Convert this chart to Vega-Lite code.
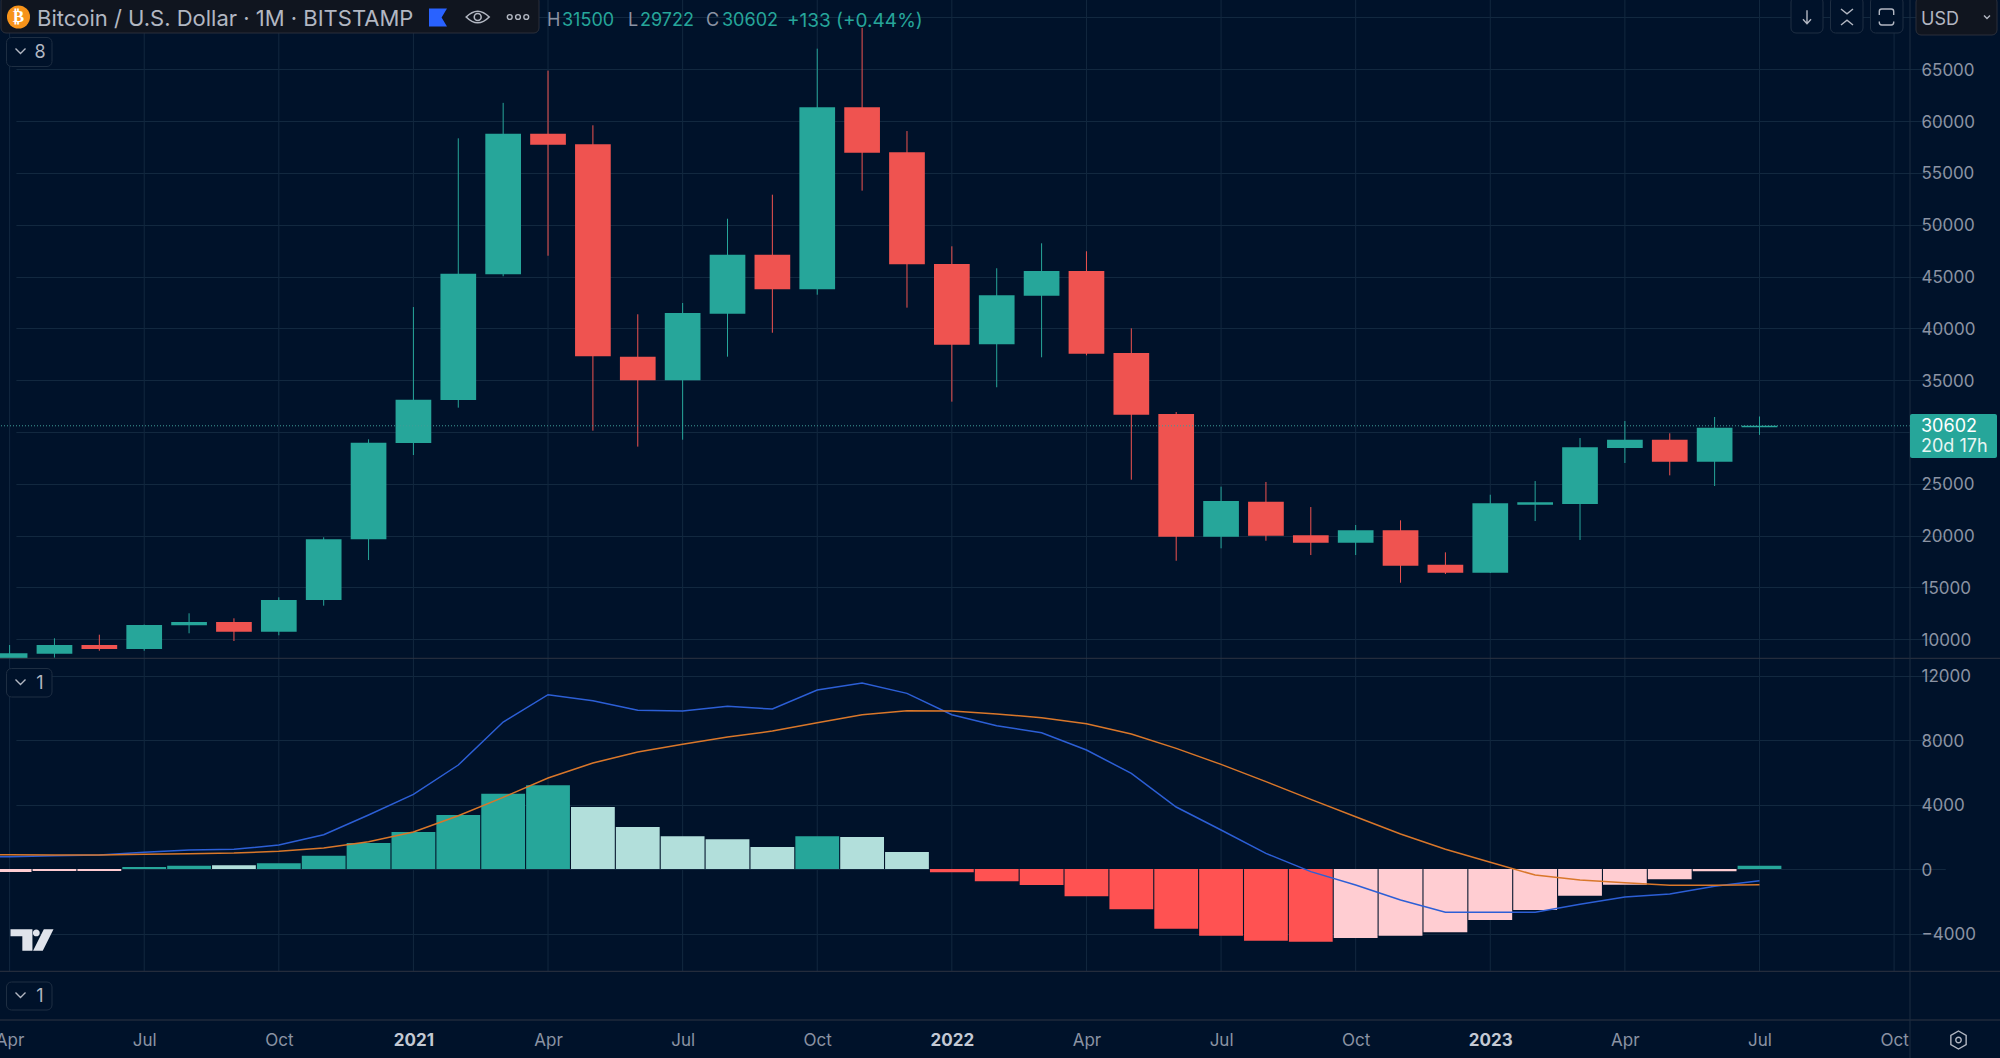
{"$schema":"https://vega.github.io/schema/vega-lite/v6.json","width":1910,"height":1058,"autosize":{"type":"none"},"padding":{"left":0,"top":0,"right":90,"bottom":0},"background":"#00122a","view":{"stroke":null,"fill":null},"data":{"values":[{}]},
"datasets":{
"quarters":[{"month":"2020-04"},{"month":"2020-07"},{"month":"2020-10"},{"month":"2021-01"},{"month":"2021-04"},{"month":"2021-07"},{"month":"2021-10"},{"month":"2022-01"},{"month":"2022-04"},{"month":"2022-07"},{"month":"2022-10"},{"month":"2023-01"},{"month":"2023-04"},{"month":"2023-07"},{"month":"2023-10"}],
"candles":[
{"month":"2020-04","open":6430,"high":9450,"low":6150,"close":8649,"dir":"up"},
{"month":"2020-05","open":8610,"high":10096,"low":8225,"close":9450,"dir":"up"},
{"month":"2020-06","open":9450,"high":10444,"low":8900,"close":9064,"dir":"down"},
{"month":"2020-07","open":9064,"high":11420,"low":8900,"close":11380,"dir":"up"},
{"month":"2020-08","open":11350,"high":12509,"low":10580,"close":11670,"dir":"up"},
{"month":"2020-09","open":11670,"high":12026,"low":9836,"close":10733,"dir":"down"},
{"month":"2020-10","open":10733,"high":14053,"low":10386,"close":13792,"dir":"up"},
{"month":"2020-11","open":13792,"high":19842,"low":13245,"close":19650,"dir":"up"},
{"month":"2020-12","open":19650,"high":29298,"low":17650,"close":28970,"dir":"up"},
{"month":"2021-01","open":28940,"high":42060,"low":27780,"close":33120,"dir":"up"},
{"month":"2021-02","open":33090,"high":58340,"low":32350,"close":45270,"dir":"up"},
{"month":"2021-03","open":45220,"high":61760,"low":45030,"close":58790,"dir":"up"},
{"month":"2021-04","open":58790,"high":64870,"low":47010,"close":57720,"dir":"down"},
{"month":"2021-05","open":57760,"high":59596,"low":30130,"close":37306,"dir":"down"},
{"month":"2021-06","open":37270,"high":41360,"low":28590,"close":34990,"dir":"down"},
{"month":"2021-07","open":34990,"high":42450,"low":29260,"close":41480,"dir":"up"},
{"month":"2021-08","open":41420,"high":50580,"low":37270,"close":47110,"dir":"up"},
{"month":"2021-09","open":47110,"high":52900,"low":39580,"close":43770,"dir":"down"},
{"month":"2021-10","open":43770,"high":66990,"low":43250,"close":61330,"dir":"up"},
{"month":"2021-11","open":61330,"high":69000,"low":53290,"close":56950,"dir":"down"},
{"month":"2021-12","open":56990,"high":59040,"low":42000,"close":46180,"dir":"down"},
{"month":"2022-01","open":46210,"high":47920,"low":32930,"close":38430,"dir":"down"},
{"month":"2022-02","open":38460,"high":45800,"low":34320,"close":43190,"dir":"up"},
{"month":"2022-03","open":43150,"high":48210,"low":37210,"close":45540,"dir":"up"},
{"month":"2022-04","open":45540,"high":47440,"low":37400,"close":37560,"dir":"down"},
{"month":"2022-05","open":37620,"high":40000,"low":25400,"close":31670,"dir":"down"},
{"month":"2022-06","open":31740,"high":31930,"low":17580,"close":19900,"dir":"down"},
{"month":"2022-07","open":19900,"high":24730,"low":18780,"close":23340,"dir":"up"},
{"month":"2022-08","open":23280,"high":25180,"low":19510,"close":20000,"dir":"down"},
{"month":"2022-09","open":20040,"high":22760,"low":18130,"close":19320,"dir":"down"},
{"month":"2022-10","open":19320,"high":21030,"low":18130,"close":20520,"dir":"up"},
{"month":"2022-11","open":20520,"high":21480,"low":15460,"close":17100,"dir":"down"},
{"month":"2022-12","open":17200,"high":18390,"low":16300,"close":16430,"dir":"down"},
{"month":"2023-01","open":16430,"high":23950,"low":16400,"close":23120,"dir":"up"},
{"month":"2023-02","open":22990,"high":25270,"low":21410,"close":23220,"dir":"up"},
{"month":"2023-03","open":23050,"high":29420,"low":19580,"close":28520,"dir":"up"},
{"month":"2023-04","open":28460,"high":31060,"low":27010,"close":29260,"dir":"up"},
{"month":"2023-05","open":29260,"high":29880,"low":25820,"close":27140,"dir":"down"},
{"month":"2023-06","open":27140,"high":31450,"low":24790,"close":30420,"dir":"up"},
{"month":"2023-07","open":30469,"high":31500,"low":29722,"close":30602,"dir":"up"}],
"macd":[
{"month":"2020-03","macd":720,"signal":900},
{"month":"2020-04","macd":765,"signal":889,"hist":-186,"dir":"recovering"},
{"month":"2020-05","macd":826,"signal":868,"hist":-120,"dir":"recovering"},
{"month":"2020-06","macd":868,"signal":868,"hist":-120,"dir":"recovering"},
{"month":"2020-07","macd":1033,"signal":909,"hist":120,"dir":"growing"},
{"month":"2020-08","macd":1178,"signal":951,"hist":200,"dir":"growing"},
{"month":"2020-09","macd":1220,"signal":992,"hist":227,"dir":"fading"},
{"month":"2020-10","macd":1488,"signal":1096,"hist":350,"dir":"growing"},
{"month":"2020-11","macd":2129,"signal":1302,"hist":826,"dir":"growing"},
{"month":"2020-12","macd":3348,"signal":1695,"hist":1612,"dir":"growing"},
{"month":"2021-01","macd":4630,"signal":2294,"hist":2294,"dir":"growing"},
{"month":"2021-02","macd":6449,"signal":3307,"hist":3348,"dir":"growing"},
{"month":"2021-03","macd":9115,"signal":4444,"hist":4671,"dir":"growing"},
{"month":"2021-04","macd":10810,"signal":5643,"hist":5188,"dir":"growing"},
{"month":"2021-05","macd":10438,"signal":6573,"hist":3845,"dir":"fading"},
{"month":"2021-06","macd":9839,"signal":7255,"hist":2604,"dir":"fading"},
{"month":"2021-07","macd":9798,"signal":7731,"hist":2026,"dir":"fading"},
{"month":"2021-08","macd":10087,"signal":8185,"hist":1840,"dir":"fading"},
{"month":"2021-09","macd":9922,"signal":8557,"hist":1364,"dir":"fading"},
{"month":"2021-10","macd":11100,"signal":9074,"hist":2026,"dir":"growing"},
{"month":"2021-11","macd":11534,"signal":9570,"hist":1984,"dir":"fading"},
{"month":"2021-12","macd":10893,"signal":9818,"hist":1054,"dir":"fading"},
{"month":"2022-01","macd":9570,"signal":9798,"hist":-207,"dir":"dropping"},
{"month":"2022-02","macd":8888,"signal":9612,"hist":-765,"dir":"dropping"},
{"month":"2022-03","macd":8454,"signal":9384,"hist":-992,"dir":"dropping"},
{"month":"2022-04","macd":7379,"signal":9012,"hist":-1695,"dir":"dropping"},
{"month":"2022-05","macd":5932,"signal":8371,"hist":-2501,"dir":"dropping"},
{"month":"2022-06","macd":3845,"signal":7483,"hist":-3700,"dir":"dropping"},
{"month":"2022-07","macd":2418,"signal":6490,"hist":-4134,"dir":"dropping"},
{"month":"2022-08","macd":971,"signal":5416,"hist":-4444,"dir":"dropping"},
{"month":"2022-09","macd":-165,"signal":4320,"hist":-4506,"dir":"dropping"},
{"month":"2022-10","macd":-992,"signal":3245,"hist":-4279,"dir":"recovering"},
{"month":"2022-11","macd":-1922,"signal":2170,"hist":-4134,"dir":"recovering"},
{"month":"2022-12","macd":-2687,"signal":1220,"hist":-3927,"dir":"recovering"},
{"month":"2023-01","macd":-2687,"signal":413,"hist":-3163,"dir":"recovering"},
{"month":"2023-02","macd":-2687,"signal":-372,"hist":-2542,"dir":"recovering"},
{"month":"2023-03","macd":-2191,"signal":-682,"hist":-1654,"dir":"recovering"},
{"month":"2023-04","macd":-1736,"signal":-847,"hist":-971,"dir":"recovering"},
{"month":"2023-05","macd":-1550,"signal":-1013,"hist":-641,"dir":"recovering"},
{"month":"2023-06","macd":-1075,"signal":-1013,"hist":-145,"dir":"recovering"},
{"month":"2023-07","macd":-723,"signal":-971,"hist":207,"dir":"growing"}]
},
"layer":[
{"data":{"name":"quarters"},"mark":{"type":"rule","color":"#12283f","strokeWidth":1},"encoding":{
"x":{"field":"month","type":"ordinal","scale":{"type":"point","padding":0,"range":[-35.27,1894.1],"domain":["2020-03","2020-04","2020-05","2020-06","2020-07","2020-08","2020-09","2020-10","2020-11","2020-12","2021-01","2021-02","2021-03","2021-04","2021-05","2021-06","2021-07","2021-08","2021-09","2021-10","2021-11","2021-12","2022-01","2022-02","2022-03","2022-04","2022-05","2022-06","2022-07","2022-08","2022-09","2022-10","2022-11","2022-12","2023-01","2023-02","2023-03","2023-04","2023-05","2023-06","2023-07","2023-08","2023-09","2023-10"]},
"axis":{"title":null,"orient":"bottom","offset":-38,"domain":false,"ticks":false,"grid":false,"labelAngle":0,"labelOverlap":false,"labelBound":false,"labelFlush":false,"labelPadding":12,"labelFont":"Inter","labelFontSize":17,"labelAlign":"center","labelBaseline":"top",
"labelColor":{"condition":{"test":"substring(datum.value,5)==='01'","value":"#c3c9d4"},"value":"#8b93a3"},
"labelFontWeight":{"condition":{"test":"substring(datum.value,5)==='01'","value":"bold"},"value":"normal"},
"values":["2020-04","2020-07","2020-10","2021-01","2021-04","2021-07","2021-10","2022-01","2022-04","2022-07","2022-10","2023-01","2023-04","2023-07","2023-10"],
"labelExpr":"substring(datum.value,5)==='01'?substring(datum.value,0,4):substring(datum.value,5)==='04'?'Apr':substring(datum.value,5)==='07'?'Jul':'Oct'"}},
"y":{"value":0},"y2":{"value":971}}},
{"data":{"name":"candles"},"layer":[
{"mark":{"type":"rule","strokeWidth":1},"encoding":{
"x":{"field":"month","type":"ordinal"},
"y":{"field":"low","type":"quantitative","scale":{"domain":[8167,71686],"range":[658.3,0],"clamp":true,"nice":false,"zero":false},
"axis":{"title":null,"orient":"right","values":[10000,15000,20000,25000,30000,35000,40000,45000,50000,55000,60000,65000,70000],"labelExpr":"(datum.value===30000||datum.value===70000)?'':format(datum.value,'d')","domain":false,"ticks":false,"grid":true,"gridColor":"#12283f","gridWidth":1,"labelFont":"Inter","labelFontSize":17,"labelColor":"#8b93a3","labelPadding":11,"labelOffset":1}},
"y2":{"field":"high"},
"color":{"field":"dir","type":"nominal","legend":null,"scale":{"domain":["up","down","growing","fading","dropping","recovering"],"range":["#26a69a","#ef5350","#26a69a","#b2dfdb","#ff5252","#ffcdd2"]}}}},
{"mark":{"type":"bar","width":35.7},"encoding":{
"x":{"field":"month","type":"ordinal"},
"y":{"field":"open","type":"quantitative"},"y2":{"field":"close"},
"color":{"field":"dir","type":"nominal","legend":null}}},
{"data":{"values":[{"last":30602}]},"mark":{"type":"rule","color":"#3f9e98","strokeWidth":1,"strokeDash":[1,2]},"encoding":{"y":{"field":"last","type":"quantitative"}}}
]},
{"data":{"name":"macd"},"layer":[
{"transform":[{"filter":"isValid(datum.hist)"}],"mark":{"type":"bar","width":43.8},"encoding":{
"x":{"field":"month","type":"ordinal"},
"y":{"field":"hist","type":"quantitative","scale":{"domain":[-6344,13067],"range":[971.3,658.3],"nice":false,"zero":false},
"axis":{"title":null,"orient":"right","values":[-4000,0,4000,8000,12000],"format":"d","domain":false,"ticks":false,"grid":true,"gridColor":"#12283f","gridWidth":1,"labelFont":"Inter","labelFontSize":17,"labelColor":"#8b93a3","labelPadding":11,"labelOffset":1}},
"y2":{"datum":0},
"color":{"field":"dir","type":"nominal","legend":null}}},
{"mark":{"type":"line","color":"#2c5fd6","strokeWidth":1.5},"encoding":{"x":{"field":"month","type":"ordinal"},"y":{"field":"macd","type":"quantitative"}}},
{"mark":{"type":"line","color":"#d9772a","strokeWidth":1.5},"encoding":{"x":{"field":"month","type":"ordinal"},"y":{"field":"signal","type":"quantitative"}}}
]},
{"mark":{"type":"rule","color":"#2e3442"},"encoding":{"x":{"value":0},"x2":{"value":2000},"y":{"value":658.3}}},
{"mark":{"type":"rule","color":"#2e3442"},"encoding":{"x":{"value":0},"x2":{"value":2000},"y":{"value":971.3}}},
{"mark":{"type":"rule","color":"#2e3442"},"encoding":{"x":{"value":0},"x2":{"value":2000},"y":{"value":1020}}},
{"mark":{"type":"rule","color":"#1c2c40"},"encoding":{"x":{"value":1910},"y":{"value":0},"y2":{"value":1058}}},
{"mark":{"type":"rect","fill":"#26a69a","cornerRadius":2},"encoding":{"x":{"value":1910},"x2":{"value":1997},"y":{"value":414},"y2":{"value":458}}},
{"mark":{"type":"text","text":"30602","fill":"#ffffff","font":"Inter","fontSize":18,"align":"left","baseline":"middle"},"encoding":{"x":{"value":1921},"y":{"value":427}}},
{"mark":{"type":"text","text":"20d 17h","fill":"#e6f5f3","font":"Inter","fontSize":18,"align":"left","baseline":"middle"},"encoding":{"x":{"value":1921},"y":{"value":447}}},
{"mark":{"type":"rect","fill":"#10151f","stroke":"#2a2f3a","cornerRadius":5},"encoding":{"x":{"value":1},"x2":{"value":539},"y":{"value":-4},"y2":{"value":33}}},
{"mark":{"type":"point","shape":"circle","filled":true,"fill":"#f7931a","opacity":1,"size":531,"stroke":null},"encoding":{"x":{"value":18.5},"y":{"value":17}}},
{"mark":{"type":"text","text":"₿","fill":"#ffffff","font":"DejaVu Sans","fontWeight":"bold","fontSize":17,"align":"center","baseline":"middle"},"encoding":{"x":{"value":18.5},"y":{"value":17}}},
{"mark":{"type":"text","text":"Bitcoin / U.S. Dollar · 1M · BITSTAMP","fill":"#b2b7c2","font":"Inter","fontSize":22,"align":"left","baseline":"middle"},"encoding":{"x":{"value":37},"y":{"value":19}}},
{"mark":{"type":"point","shape":"M-1 -1H1L.4 0L1 1H-1Z","filled":true,"fill":"#2962ff","opacity":1,"size":324,"stroke":null},"encoding":{"x":{"value":438},"y":{"value":17.5}}},
{"mark":{"type":"point","shape":"M-1 0Q0 -1 1 0Q0 1 -1 0ZM.3 0A.3 .3 0 1 1 -.3 0A.3 .3 0 1 1 .3 0Z","filled":false,"stroke":"#b2b7c2","strokeWidth":1.6,"opacity":1,"size":529},"encoding":{"x":{"value":477.7},"y":{"value":17}}},
{"mark":{"type":"point","shape":"M-.53 0A.22 .22 0 1 1 -.97 0A.22 .22 0 1 1 -.53 0ZM.22 0A.22 .22 0 1 1 -.22 0A.22 .22 0 1 1 .22 0ZM.97 0A.22 .22 0 1 1 .53 0A.22 .22 0 1 1 .97 0Z","filled":false,"stroke":"#b2b7c2","strokeWidth":1.4,"opacity":1,"size":484},"encoding":{"x":{"value":518},"y":{"value":17}}},
{"mark":{"type":"text","text":"H","fill":"#8b93a3","font":"Inter","fontSize":18,"align":"left","baseline":"middle"},"encoding":{"x":{"value":547},"y":{"value":21}}},
{"mark":{"type":"text","text":"31500","fill":"#26a69a","font":"Inter","fontSize":18,"align":"left","baseline":"middle"},"encoding":{"x":{"value":562},"y":{"value":21}}},
{"mark":{"type":"text","text":"L","fill":"#8b93a3","font":"Inter","fontSize":18,"align":"left","baseline":"middle"},"encoding":{"x":{"value":628},"y":{"value":21}}},
{"mark":{"type":"text","text":"29722","fill":"#26a69a","font":"Inter","fontSize":18,"align":"left","baseline":"middle"},"encoding":{"x":{"value":640},"y":{"value":21}}},
{"mark":{"type":"text","text":"C","fill":"#8b93a3","font":"Inter","fontSize":18,"align":"left","baseline":"middle"},"encoding":{"x":{"value":706},"y":{"value":21}}},
{"mark":{"type":"text","text":"30602","fill":"#26a69a","font":"Inter","fontSize":18,"align":"left","baseline":"middle"},"encoding":{"x":{"value":722},"y":{"value":21}}},
{"mark":{"type":"text","text":"+133 (+0.44%)","fill":"#26a69a","font":"Inter","fontSize":19,"align":"left","baseline":"middle"},"encoding":{"x":{"value":787},"y":{"value":21}}},
{"mark":{"type":"rect","fill":"#00122a","stroke":"#1e2e42","cornerRadius":5},"encoding":{"x":{"value":6.5},"x2":{"value":52},"y":{"value":37.5},"y2":{"value":66.5}}},
{"mark":{"type":"point","shape":"M-1 -.5L0 .5L1 -.5","filled":false,"stroke":"#b2b7c2","strokeWidth":1.4,"opacity":1,"size":100},"encoding":{"x":{"value":20.5},"y":{"value":51}}},
{"mark":{"type":"text","text":"8","fill":"#b2b7c2","font":"Inter","fontSize":18,"align":"center","baseline":"middle"},"encoding":{"x":{"value":40},"y":{"value":53}}},
{"mark":{"type":"rect","fill":"#00122a","stroke":"#1e2e42","cornerRadius":5},"encoding":{"x":{"value":6.5},"x2":{"value":52},"y":{"value":668.5},"y2":{"value":697}}},
{"mark":{"type":"point","shape":"M-1 -.5L0 .5L1 -.5","filled":false,"stroke":"#b2b7c2","strokeWidth":1.4,"opacity":1,"size":100},"encoding":{"x":{"value":20.5},"y":{"value":682}}},
{"mark":{"type":"text","text":"1","fill":"#b2b7c2","font":"Inter","fontSize":18,"align":"center","baseline":"middle"},"encoding":{"x":{"value":40},"y":{"value":684}}},
{"mark":{"type":"rect","fill":"#00122a","stroke":"#1e2e42","cornerRadius":5},"encoding":{"x":{"value":6.5},"x2":{"value":52},"y":{"value":982},"y2":{"value":1010}}},
{"mark":{"type":"point","shape":"M-1 -.5L0 .5L1 -.5","filled":false,"stroke":"#b2b7c2","strokeWidth":1.4,"opacity":1,"size":100},"encoding":{"x":{"value":20.5},"y":{"value":995}}},
{"mark":{"type":"text","text":"1","fill":"#b2b7c2","font":"Inter","fontSize":18,"align":"center","baseline":"middle"},"encoding":{"x":{"value":40},"y":{"value":997}}},
{"mark":{"type":"point","shape":"M-1 -.5H.02V.5H-.45V-.17H-1ZM.04 -.33A.16 .16 0 1 0 .36 -.33A.16 .16 0 1 0 .04 -.33ZM1 -.5L.5 .5H.05L.55 -.5Z","filled":true,"fill":"#e0e3eb","opacity":1,"size":1849,"stroke":null},"encoding":{"x":{"value":32},"y":{"value":940}}},
{"mark":{"type":"rect","fill":"#00122a","stroke":"#1e2e42","cornerRadius":5},"encoding":{"x":{"value":1791},"x2":{"value":1823},"y":{"value":-3},"y2":{"value":33}}},
{"mark":{"type":"point","shape":"M0 -1V1M-.6 .35L0 1L.6 .35","filled":false,"stroke":"#b2b7c2","strokeWidth":1.4,"opacity":1,"size":180},"encoding":{"x":{"value":1807},"y":{"value":17}}},
{"mark":{"type":"rect","fill":"#00122a","stroke":"#1e2e42","cornerRadius":5},"encoding":{"x":{"value":1830.5},"x2":{"value":1863},"y":{"value":-3},"y2":{"value":33}}},
{"mark":{"type":"point","shape":"M-.75 -1L0 -.4L.75 -1M-.75 1L0 .4L.75 1","filled":false,"stroke":"#b2b7c2","strokeWidth":1.4,"opacity":1,"size":256},"encoding":{"x":{"value":1847},"y":{"value":17}}},
{"mark":{"type":"rect","fill":"#00122a","stroke":"#1e2e42","cornerRadius":5},"encoding":{"x":{"value":1870.5},"x2":{"value":1903},"y":{"value":-3},"y2":{"value":33}}},
{"mark":{"type":"point","shape":"M-.9 -.25V-.7Q-.9 -1 -.6 -1H.6Q.9 -1 .9 -.7V-.25M-.9 .55V.7Q-.9 1 -.6 1H.6Q.9 1 .9 .7V.55","filled":false,"stroke":"#b2b7c2","strokeWidth":1.4,"opacity":1,"size":256},"encoding":{"x":{"value":1886.5},"y":{"value":17}}},
{"mark":{"type":"rect","fill":"#10151f","stroke":"#2a2f3a","cornerRadius":5},"encoding":{"x":{"value":1916},"x2":{"value":1997},"y":{"value":-3},"y2":{"value":35}}},
{"mark":{"type":"text","text":"USD","fill":"#b2b7c2","font":"Inter","fontSize":18,"align":"left","baseline":"middle"},"encoding":{"x":{"value":1921},"y":{"value":20}}},
{"mark":{"type":"point","shape":"M-1 -.5L0 .5L1 -.5","filled":false,"stroke":"#b2b7c2","strokeWidth":1.4,"opacity":1,"size":36},"encoding":{"x":{"value":1987},"y":{"value":17}}},
{"mark":{"type":"point","shape":"M0 -1L.85 -.5V.5L0 1L-.85 .5V-.5ZM.3 0A.3 .3 0 1 1 -.3 0A.3 .3 0 1 1 .3 0Z","filled":false,"stroke":"#b2b7c2","strokeWidth":1.4,"opacity":1,"size":324},"encoding":{"x":{"value":1958.5},"y":{"value":1040}}}
],
"resolve":{"scale":{"y":"independent","color":"shared"}}}
